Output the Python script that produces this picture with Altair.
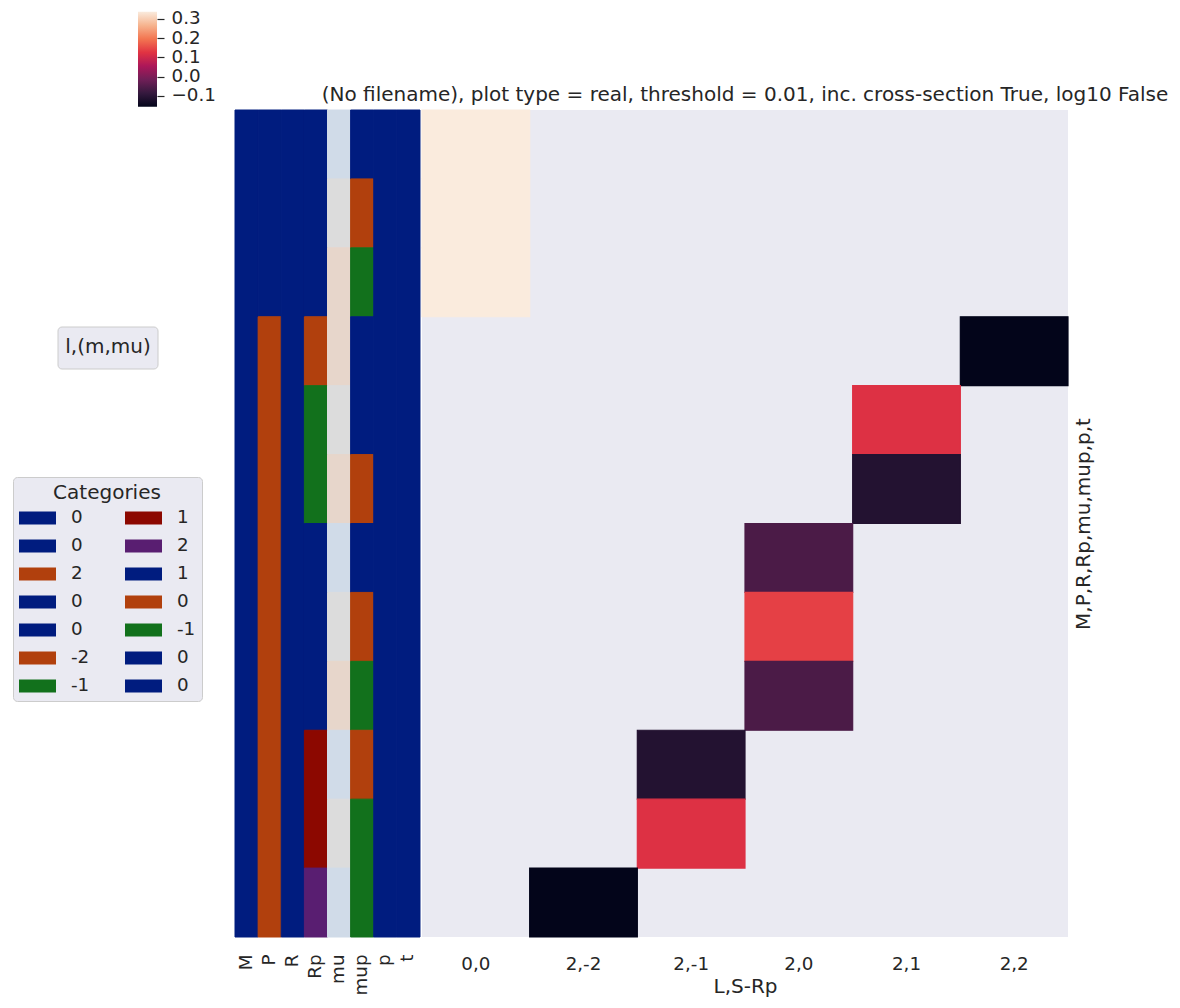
import altair as alt
import pandas as pd

# Row metadata for the 12 matrix-element rows (top to bottom)
row_M = [0, 0, 0, 0, 0, 0, 0, 0, 0, 0, 0, 0]
row_P = [0, 0, 0, 2, 2, 2, 2, 2, 2, 2, 2, 2]
row_R = [0, 0, 0, 0, 0, 0, 0, 0, 0, 0, 0, 0]
row_Rp = [0, 0, 0, -2, -1, -1, 0, 0, 0, 1, 1, 2]
row_mu = [1, 0, -1, -1, 0, -1, 1, 0, -1, 1, 0, 1]
row_mup = [1, 0, -1, 1, 1, 0, 1, 0, -1, 0, -1, -1]
row_p = [0, 0, 0, 0, 0, 0, 0, 0, 0, 0, 0, 0]
row_t = [0, 0, 0, 0, 0, 0, 0, 0, 0, 0, 0, 0]

# Heatmap columns (L,S-Rp) and the populated cell of each row
heat_cols = ["0,0", "2,-2", "2,-1", "2,0", "2,1", "2,2"]
row_cell = ["0,0", "0,0", "0,0", "2,2", "2,1", "2,1", "2,0", "2,0", "2,0", "2,-1", "2,-1", "2,-2"]
row_value = [0.338, 0.338, 0.338, -0.157, 0.120, -0.112, -0.060, 0.140, -0.060, -0.112, 0.120, -0.157]

meta_cols = ["M", "P", "R", "Rp", "mu", "mup", "p", "t"]
meta = {"M": row_M, "P": row_P, "R": row_R, "Rp": row_Rp, "mu": row_mu,
        "mup": row_mup, "p": row_p, "t": row_t}

# Styling
cat_palette = ["#001c7f", "#b1400d", "#12711c", "#8c0800", "#591e71"]
mu_palette = {1: "#d0dbe8", 0: "#dcdcdc", -1: "#e7d6cb"}
rocket = ["#03051a", "#35193e", "#701f57", "#ad1759", "#e13342", "#f37651", "#f6b48f", "#faebdd"]
TXT = "#262626"
BG = "#eaeaf2"
FONT = "DejaVu Sans"
TICK_FS = 18.3
TITLE_FS = 20

nrows = len(row_cell)
rows = list(range(nrows))

# Category keys per metadata column, colours assigned in order of appearance
keys, key_colors, legend_keys = [], [], []
for col in meta_cols:
    uniq = list(dict.fromkeys(meta[col]))
    for i, v in enumerate(uniq):
        key = f"{col}:{v}"
        keys.append(key)
        if col == "mu":
            key_colors.append(mu_palette[v])
        else:
            key_colors.append(cat_palette[i])
            legend_keys.append(key)

# Consecutive equal rows of each metadata column become one block
blocks = []
for col in meta_cols:
    vals = meta[col]
    start = 0
    for r in range(1, nrows + 1):
        if r == nrows or vals[r] != vals[start]:
            blocks.append({"col": col, "start": start, "end": r, "key": f"{col}:{vals[start]}"})
            start = r
blocks = pd.DataFrame(blocks)
heat_df = pd.DataFrame({"row": rows, "cell": row_cell, "value": row_value})

vmin, vmax = min(row_value), max(row_value)
n_stops = len(rocket)
stop_pos = [i / (n_stops - 1) for i in range(n_stops)]
stop_vals = [vmin + p * (vmax - vmin) for p in stop_pos]

cat_scale = alt.Scale(domain=keys, range=key_colors)

# Row-colour strips with the category legend
strip = alt.Chart(blocks).mark_rect(strokeWidth=1).encode(
    x=alt.X("col:N", sort=meta_cols,
            scale=alt.Scale(domain=meta_cols, paddingInner=0, paddingOuter=0),
            axis=alt.Axis(title=None, labelAngle=270, labelPadding=17, ticks=False,
                          domain=False, labelOverlap=False)),
    y=alt.Y("start:Q", scale=alt.Scale(domain=[0, nrows], reverse=True, nice=False, zero=False),
            axis=None),
    y2="end:Q",
    color=alt.Color(
        "key:N",
        scale=cat_scale,
        legend=alt.Legend(
            title="Categories", orient="none", legendX=-222, legendY=367,
            values=legend_keys, columns=2, columnPadding=35, rowPadding=9,
            gridAlign="each", clipHeight=18,
            symbolType="M-1,-0.351H1V0.351H-1Z", symbolSize=1369,
            symbolStrokeWidth=0, symbolOpacity=1,
            labelExpr="split(datum.label, ':')[1]", labelFontSize=TICK_FS,
            labelOffset=15, labelColor=TXT, labelFont=FONT,
            titleFontSize=TITLE_FS, titleFontWeight="normal", titleColor=TXT,
            titleAnchor="middle", titlePadding=6, titleFont=FONT,
            padding=6, fillColor=BG, strokeColor="#cccccc", cornerRadius=4,
        ),
    ),
    stroke=alt.Stroke("key:N", scale=cat_scale, legend=None),
)

# Colour bar for the heatmap values
cbar = alt.Chart(pd.DataFrame({"lo": [vmin], "hi": [vmax]})).mark_rect(
    fill=alt.Gradient(
        gradient="linear",
        stops=[alt.GradientStop(offset=p, color=c) for p, c in zip(stop_pos, rocket)],
        x1=0, x2=0, y1=1, y2=0,
    )
).encode(
    x=alt.value(-97), x2=alt.value(-78),
    y=alt.Y("lo:Q",
            scale=alt.Scale(domain=[vmin, vmax], range=[-3.3, -98.3], nice=False, zero=False),
            axis=alt.Axis(orient="right", offset=-263, values=[-0.1, 0.0, 0.1, 0.2, 0.3],
                          format=".1f", tickSize=7, tickColor=TXT, tickWidth=1.2,
                          labelPadding=7, domain=False, grid=False, title=None)),
    y2="hi:Q",
)

# Boxed label for the (m,mu) grouping
box_df = pd.DataFrame({"name": ["l,(m,mu)"]})
box = alt.Chart(box_df).mark_rect(
    fill=BG, stroke="#cccccc", strokeWidth=1, cornerRadius=4
).encode(x=alt.value(-177), x2=alt.value(-77), y=alt.value(217), y2=alt.value(259))
box_text = alt.Chart(box_df).mark_text(
    fontSize=TITLE_FS, color=TXT, font=FONT, align="center", baseline="middle"
).encode(x=alt.value(-127), y=alt.value(237), text="name:N")

left = alt.layer(strip, cbar, box, box_text).resolve_scale(
    y="independent", x="independent"
).resolve_axis(y="independent").properties(width=185, height=827)

# Main heatmap
heat_scale = alt.Scale(domain=stop_vals, range=rocket, interpolate="rgb")
heat = alt.Chart(heat_df).mark_rect(strokeWidth=1.2).encode(
    x=alt.X("cell:N", sort=heat_cols,
            scale=alt.Scale(domain=heat_cols, paddingInner=0, paddingOuter=0),
            axis=alt.Axis(title="L,S-Rp", labelAngle=0, ticks=False, domain=False,
                          labelPadding=18, titlePadding=4)),
    y=alt.Y("row:O", scale=alt.Scale(domain=rows, paddingInner=0, paddingOuter=0),
            axis=alt.Axis(orient="right", title="M,P,R,Rp,mu,mup,p,t", labels=False,
                          ticks=False, domain=False, titleAngle=270, titleBaseline="top",
                          titlePadding=5)),
    color=alt.Color("value:Q", scale=heat_scale, legend=None),
    stroke=alt.Stroke("value:Q", scale=heat_scale, legend=None),
).properties(
    width=646, height=827,
    title=alt.TitleParams(
        text="(No filename), plot type = real, threshold = 0.01, inc. cross-section True, log10 False",
        anchor="middle", frame="group", offset=4, fontSize=TITLE_FS,
        fontWeight="normal", color=TXT, font=FONT),
)

chart = alt.hconcat(left, heat, spacing=2, bounds="flush").resolve_scale(
    color="independent", x="independent", y="independent", stroke="independent"
).resolve_legend(color="independent").properties(
    padding={"left": 12, "top": 8, "right": 5, "bottom": 5}
).configure(font=FONT).configure_view(stroke=None, fill=BG).configure_axis(
    labelColor=TXT, titleColor=TXT, labelFontSize=TICK_FS, titleFontSize=TITLE_FS,
    titleFontWeight="normal", labelFont=FONT, titleFont=FONT
)

chart.save("out.html", embed_options={"renderer": "svg", "actions": False})
